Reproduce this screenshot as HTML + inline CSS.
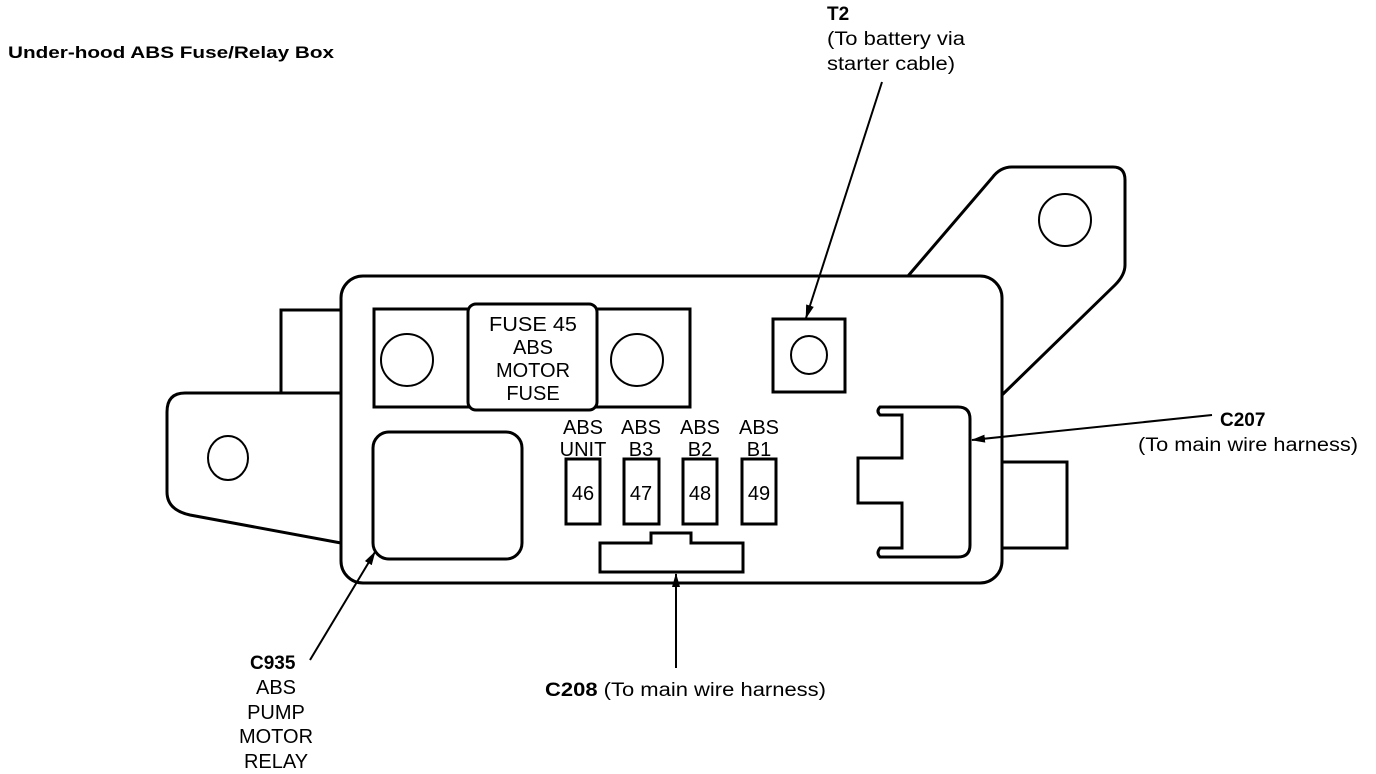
<!DOCTYPE html>
<html><head><meta charset="utf-8"><style>html,body{margin:0;padding:0;background:#fff}svg{display:block}text{font-family:"Liberation Sans",Arial,sans-serif;fill:#000}</style></head>
<body>
<svg width="1376" height="774" viewBox="0 0 1376 774" xmlns="http://www.w3.org/2000/svg">
<defs><marker id="ah" markerWidth="14" markerHeight="8" refX="13" refY="4" orient="auto" markerUnits="userSpaceOnUse"><path d="M0,0 L14,4 L0,8 Z" fill="#000"/></marker></defs>
<g fill="none" stroke="#000" stroke-width="3">
<path d="M908,276 L992,178 Q1000,167 1012,167 L1113,167 Q1125,167 1125,180 L1125,265 Q1125,275 1115,285 L1002,395" fill="#fff"/>
<circle cx="1065" cy="220" r="26" stroke-width="2"/>
<path d="M341,310 L281,310 L281,393"/>
<path d="M341,393 L185,393 Q167,393 167,412 L167,492 Q167,510 190,515 L341,543"/>
<ellipse cx="228" cy="458" rx="20" ry="22" stroke-width="2"/>
<path d="M1002,462 L1067,462 L1067,548 L1002,548"/>
<rect x="341" y="276" width="661" height="307" rx="22" fill="none"/>
<rect x="374" y="309" width="316" height="98"/>
<rect x="468" y="304" width="129" height="106" rx="8" fill="#fff"/>
<circle cx="407" cy="360" r="26" stroke-width="2"/>
<circle cx="637" cy="360" r="26" stroke-width="2"/>
<rect x="773" y="319" width="72" height="73"/>
<ellipse cx="809" cy="355" rx="18" ry="19" stroke-width="2"/>
<rect x="373" y="432" width="149" height="127" rx="16"/>
<rect x="566" y="459" width="34" height="65"/>
<rect x="624" y="459" width="35" height="65"/>
<rect x="683" y="459" width="34" height="65"/>
<rect x="742" y="459" width="34" height="65"/>
<path d="M600,543 L651,543 L651,533 L691,533 L691,543 L743,543 L743,572 L600,572 Z"/>
<path d="M880,407 L958,407 Q970,407 970,419 L970,545 Q970,557 958,557 L880,557 Q876,553 880,548 L902,548 L902,503 L858,503 L858,458 L902,458 L902,415 L880,415 Q876,411 880,407 Z"/>
</g>
<g stroke="#000" stroke-width="2" fill="none">
<line x1="882" y1="82" x2="806" y2="318" marker-end="url(#ah)"/>
<line x1="1212" y1="415" x2="972" y2="440" marker-end="url(#ah)"/>
<line x1="310" y1="660" x2="375" y2="552" marker-end="url(#ah)"/>
<line x1="676" y1="668" x2="676" y2="574" marker-end="url(#ah)"/>
</g>
<text x="8" y="58" font-size="17" font-weight="bold" textLength="326" lengthAdjust="spacingAndGlyphs">Under-hood ABS Fuse/Relay Box</text>
<text x="827" y="20" font-size="19" font-weight="bold">T2</text>
<text x="827" y="45" font-size="19" textLength="138" lengthAdjust="spacingAndGlyphs">(To battery via</text>
<text x="827" y="70" font-size="19" textLength="128" lengthAdjust="spacingAndGlyphs">starter cable)</text>
<g font-size="20" text-anchor="middle">
<text x="533" y="331" textLength="88" lengthAdjust="spacingAndGlyphs">FUSE 45</text>
<text x="533" y="354">ABS</text>
<text x="533" y="377">MOTOR</text>
<text x="533" y="400">FUSE</text>
<text x="583" y="434">ABS</text><text x="583" y="456">UNIT</text>
<text x="641" y="434">ABS</text><text x="641" y="456">B3</text>
<text x="700" y="434">ABS</text><text x="700" y="456">B2</text>
<text x="759" y="434">ABS</text><text x="759" y="456">B1</text>
<text x="583" y="500">46</text>
<text x="641" y="500">47</text>
<text x="700" y="500">48</text>
<text x="759" y="500">49</text>
<text x="276" y="694">ABS</text>
<text x="276" y="719">PUMP</text>
<text x="276" y="743">MOTOR</text>
<text x="276" y="768">RELAY</text>
</g>
<text x="250" y="669" font-size="19" font-weight="bold">C935</text>
<text x="545" y="696" font-size="19" textLength="281" lengthAdjust="spacingAndGlyphs"><tspan font-weight="bold">C208</tspan> (To main wire harness)</text>
<text x="1220" y="426" font-size="19" font-weight="bold">C207</text>
<text x="1138" y="451" font-size="19" textLength="220" lengthAdjust="spacingAndGlyphs">(To main wire harness)</text>
</svg>
</body></html>
